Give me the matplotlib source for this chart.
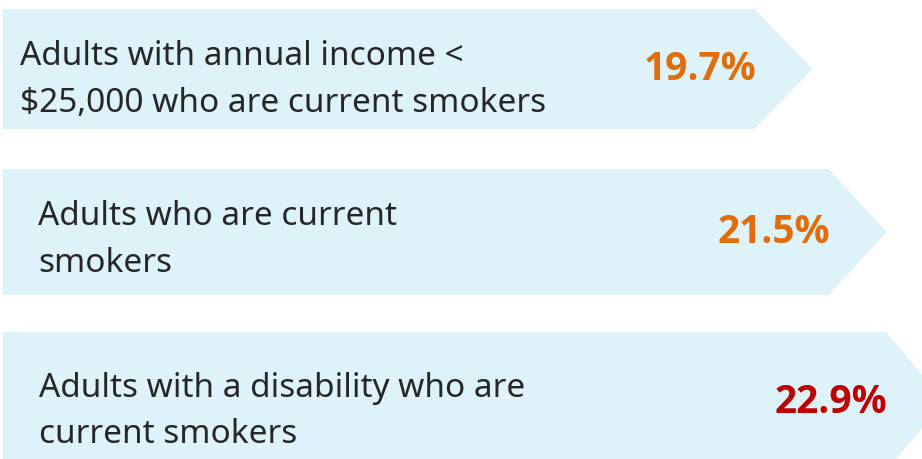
import matplotlib
matplotlib.use("Agg")
import matplotlib.pyplot as plt
from matplotlib.patches import Polygon

# data
labels = ["Adults with annual income <\n$25,000 who are current smokers",
          "Adults who are current\nsmokers",
          "Adults with a disability who are\ncurrent smokers"]
values = [19.7, 21.5, 22.9]
colors = ["#E36C0A", "#E36C0A", "#C00000"]

# layout (pixel rows, top to bottom)
y_top = [10, 170, 333]
y_bot = [130, 296, 472]
text_x = [0.42, 0.85, 0.87]
text_dy = [10, 7, 9]

fill = "#DDF3F9"
notch = 1.41   # depth of arrow point, in %-units

fig = plt.figure(figsize=(9.22, 4.6), dpi=100)
ax = fig.add_axes([0, 0, 1, 1])
ax.set_xlim(-0.07, 22.36)
ax.set_ylim(460, 0)
ax.axis("off")

for i, v in enumerate(values):
    top, bot = y_top[i], y_bot[i]
    mid = (top + bot) / 2
    pts = [(0, top), (v - notch, top), (v, mid), (v - notch, bot), (0, bot)]
    ax.add_patch(Polygon(pts, closed=True, facecolor=fill, edgecolor="none"))
    ax.text(text_x[i], mid + text_dy[i], labels[i], ha="left", va="center",
            fontsize=24, color="#262626", family="Noto Sans", linespacing=1.55)
    ax.text(v - 2.75, mid, f"{v}%", ha="center", va="center",
            fontsize=28, fontweight="bold", color=colors[i], family="Open Sans")

fig.savefig("out.png", dpi=100)
